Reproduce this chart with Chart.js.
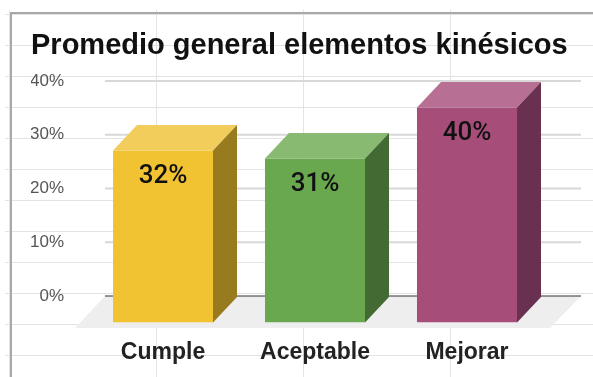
<!DOCTYPE html>
<html>
<head>
<meta charset="utf-8">
<script src="https://cdn.jsdelivr.net/npm/chart.js@4"></script>
<style>
  html, body { margin: 0; background: #fff; }
  /* spreadsheet cells behind the chart */
  #sheet {
    position: relative; width: 593px; height: 377px; overflow: hidden;
    background-image:
      linear-gradient(#a8a8a8, #a8a8a8),
      linear-gradient(#a8a8a8, #a8a8a8),
      repeating-linear-gradient(to right, #e3e3e3 0, #e3e3e3 1px, transparent 1px, transparent 147px),
      repeating-linear-gradient(to bottom, #e3e3e3 0, #e3e3e3 1px, transparent 1px, transparent 31px);
    background-size: 100% 2px, 2px 100%, 100% 100%, 100% 100%;
    background-position: 10px 12px, 10px 12px, 9px 10px, 5px 14px;
    background-repeat: no-repeat;
  }
  canvas { position: absolute; left: 0; top: 0; }
</style>
</head>
<body>
<div id="sheet"><canvas id="chart" width="593" height="377"></canvas></div>
<script>
const categories = ['Cumple', 'Aceptable', 'Mejorar'];
const values = [32, 30.5, 40];
const valueLabels = ['32%', '31%', '40%'];
const yTicks = [0, 10, 20, 30, 40];
const frontColors = ['#f1c232', '#6aa84f', '#a64d79'];
const topColors = ['#f3cd5b', '#88ba72', '#b76f94'];
const sideColors = ['#987a1f', '#436a32', '#693050'];

const unit = 5.375;      // px per 1%
const depthX = 24, depthY = 25.5;

// back wall and floor, behind the bars
const wall = {
  id: 'wall',
  beforeDatasetsDraw(chart) {
    const ctx = chart.ctx, back = chart.scales.yBack, area = chart.chartArea;
    const zero = back.getPixelForValue(0);
    const left = area.left + 18, right = area.right + 38;
    ctx.save();
    ctx.fillStyle = '#eeeeee';
    ctx.beginPath();
    ctx.moveTo(left, zero);
    ctx.lineTo(right, zero);
    ctx.lineTo(right - 31, zero + 32);
    ctx.lineTo(left - 30, zero + 32);
    ctx.closePath();
    ctx.fill();
    yTicks.forEach(function (t) {
      const y = back.getPixelForValue(t);
      ctx.strokeStyle = t === 0 ? '#333333' : '#d8d8d8';
      ctx.lineWidth = t === 0 ? 1.2 : 2;
      ctx.beginPath();
      ctx.moveTo(left, y);
      ctx.lineTo(right, y);
      ctx.stroke();
    });
    ctx.restore();
  }
};

// top and side faces plus the value labels
const faces = {
  id: 'faces',
  afterDatasetsDraw(chart) {
    const ctx = chart.ctx;
    ctx.save();
    chart.getDatasetMeta(0).data.forEach(function (bar, i) {
      const l = bar.x - bar.width / 2, r = bar.x + bar.width / 2;
      ctx.fillStyle = topColors[i];
      ctx.beginPath();
      ctx.moveTo(l, bar.y);
      ctx.lineTo(l + depthX, bar.y - depthY);
      ctx.lineTo(r + depthX, bar.y - depthY);
      ctx.lineTo(r, bar.y);
      ctx.closePath();
      ctx.fill();
      ctx.fillStyle = sideColors[i];
      ctx.beginPath();
      ctx.moveTo(r, bar.y);
      ctx.lineTo(r + depthX, bar.y - depthY);
      ctx.lineTo(r + depthX, bar.base - depthY);
      ctx.lineTo(r, bar.base);
      ctx.closePath();
      ctx.fill();
      ctx.fillStyle = '#111111';
      ctx.font = '500 26px Roboto';
      ctx.textAlign = 'center';
      ctx.textBaseline = 'middle';
      ctx.fillText(valueLabels[i], bar.x, bar.y + 26);
    });
    ctx.restore();
  }
};

new Chart(document.getElementById('chart'), {
  type: 'bar',
  data: {
    labels: categories,
    datasets: [{ data: values, backgroundColor: frontColors, borderWidth: 0, yAxisID: 'y' }]
  },
  plugins: [wall, faces],
  options: {
    responsive: false,
    animation: false,
    categoryPercentage: 1,
    barPercentage: 0.658,
    layout: { padding: { left: 31, right: 0, top: 0, bottom: 0 } },
    plugins: {
      legend: { display: false },
      tooltip: { enabled: false },
      title: {
        display: true,
        text: 'Promedio general elementos kinésicos',
        align: 'start',
        color: '#111111',
        font: { family: 'Liberation Sans', size: 29, weight: 'bold' },
        padding: { top: 28.6, bottom: 17.6 }
      }
    },
    scales: {
      x: {
        grid: { display: false },
        border: { display: false },
        ticks: {
          color: '#222222', padding: 8, maxRotation: 0,
          font: { family: 'Liberation Sans', size: 23, weight: 'bold' }
        },
        afterFit: function (s) { s.height = 54.5; }
      },
      // front plane of the bars
      y: { display: false, min: 0, max: 241.5 / unit },
      // back wall, the printed axis
      yBack: {
        position: 'left',
        min: -26.5 / unit,
        max: 40,
        grid: { display: false, drawTicks: false },
        border: { display: false },
        afterBuildTicks: function (s) { s.ticks = yTicks.map(function (v) { return { value: v }; }); },
        afterFit: function (s) { s.width = 56; },
        ticks: {
          color: '#555555', padding: 23,
          font: { family: 'Liberation Sans', size: 17 },
          callback: function (v) { return v + '%'; }
        }
      },
      // empty axis, keeps room right of the plot without narrowing the title
      spacer: {
        position: 'right',
        grid: { display: false, drawTicks: false },
        border: { display: false },
        ticks: { display: false },
        afterFit: function (s) { s.width = 50; }
      }
    }
  }
});
</script>
</body>
</html>
